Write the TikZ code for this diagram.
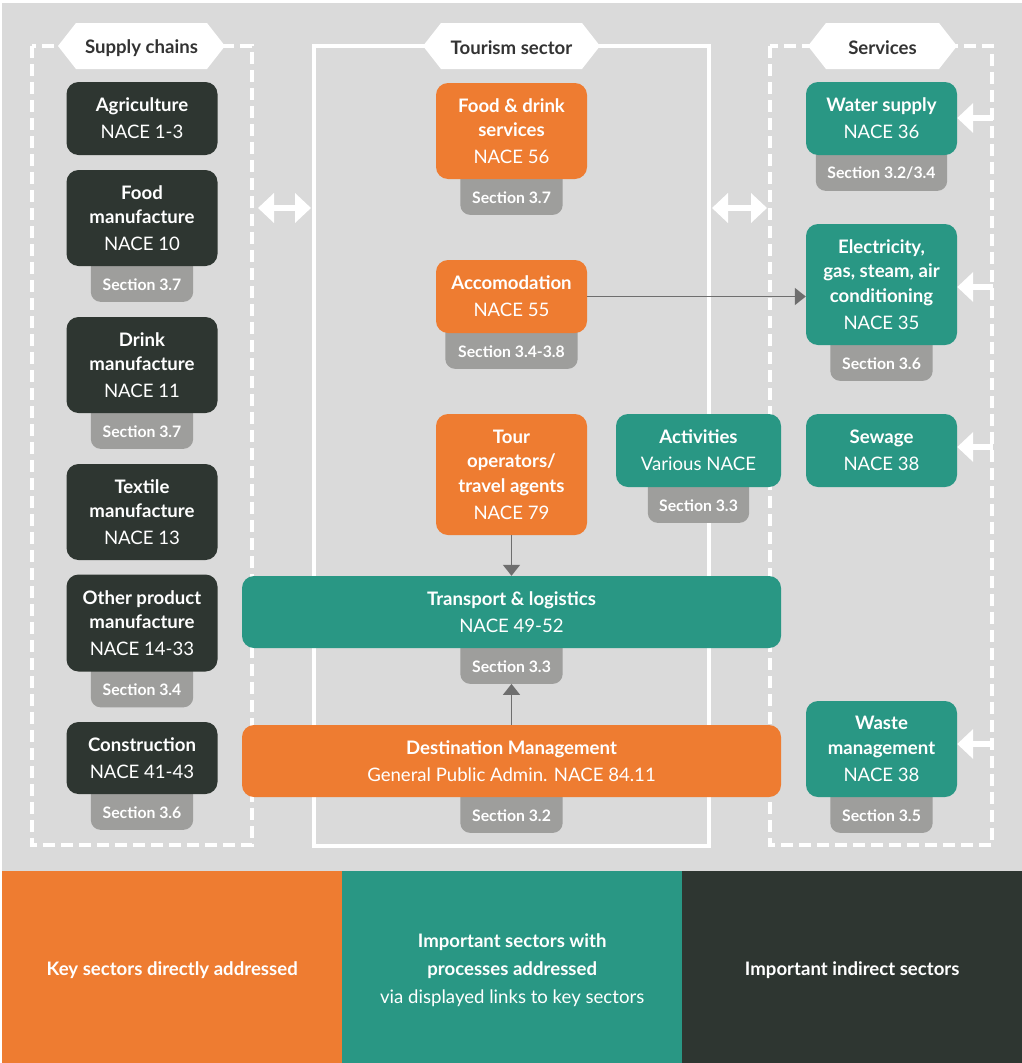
\documentclass[tikz,border=0pt]{standalone}
\usepackage{fontspec}
\setmainfont{Lato}
\usetikzlibrary{arrows.meta,calc}
\pgfdeclarelayer{back}
\pgfdeclarelayer{bg}
\pgfsetlayers{back,bg,main}
\definecolor{bggray}{HTML}{DADADA}
\definecolor{darkc}{HTML}{2E3631}
\definecolor{orangec}{HTML}{EE7C31}
\definecolor{tealc}{HTML}{299784}
\definecolor{secgray}{HTML}{9E9E9C}
\definecolor{arrowgray}{HTML}{6E6E6E}
\definecolor{tabtext}{HTML}{333333}
\newcommand\bl[1]{\textbf{#1}}
\newcommand\mysec[5]{%
  \node[sectxt, minimum width=#4, anchor=north] (#1) at (#2,#3) {#5};
  \begin{pgfonlayer}{bg}
    \fill[secgray, rounded corners=10pt] ([yshift=14pt]#1.north west) rectangle (#1.south east);
  \end{pgfonlayer}}
\newcommand\mytab[4]{% name, cx, halfwidth, text
  \fill[white] (#2-#3,46) -- (#2-#3+18,23) -- (#2+#3-18,23) -- (#2+#3,46) -- (#2+#3-18,69) -- (#2-#3+18,69) -- cycle;
  \node[tabtxt] (#1) at (#2,48) {#4};}
\begin{document}
\begin{tikzpicture}[x=1pt,y=-1pt,
  box/.style={rounded corners=12pt, inner sep=0pt, align=center, text=white,
    font=\fontsize{18.6}{24.5}\selectfont, minimum width=151pt},
  ht/.style={minimum height=#1},
  darkbox/.style={box, fill=darkc},
  orbox/.style={box, fill=orangec},
  tlbox/.style={box, fill=tealc},
  sectxt/.style={inner sep=0pt, minimum height=35pt, text=white,
    font=\bfseries\fontsize{15.8}{18}\selectfont},
  tabtxt/.style={inner sep=0pt, text=tabtext, font=\bfseries\fontsize{18.6}{20}\selectfont},
  dashborder/.style={white, line width=4pt, dash pattern=on 12pt off 6pt},
  solidborder/.style={white, line width=4pt},
  whitearrow/.style={white, line width=6.5pt, -{Triangle[length=16pt,width=29pt]}},
  whitedbl/.style={white, line width=6.5pt, {Triangle[length=16pt,width=29pt]}-{Triangle[length=16pt,width=29pt]}},
  grayarrow/.style={arrowgray, line width=1.6pt, -{Triangle[length=11pt,width=17pt]}},
  legend/.style={inner sep=0pt, minimum width=340pt, minimum height=192pt, align=center, text=white,
    font=\fontsize{18.6}{28}\selectfont},
  legtext/.style={inner sep=0pt, align=center, text=white, font=\fontsize{18.6}{28}\selectfont}
]
\useasboundingbox (0,0) rectangle (1022,1063);
\begin{pgfonlayer}{back}
  \fill[bggray] (2,3) rectangle (1022,871);
  % borders
  \draw[dashborder] (32,46) rectangle (252,845);
  \draw[solidborder] (314,46) rectangle (709,846);
  \draw[dashborder] (770,46) rectangle (992,845);
\end{pgfonlayer}

% header tabs
\mytab{tsupply}{141.5}{83.5}{Supply chains}
\mytab{ttour}{511.5}{88.5}{Tourism sector}
\mytab{tserv}{882.5}{74.5}{Services}

% supply chains
\node[darkbox, ht=73] (agr) at (142,118.5) {\bl{Agriculture}\\[2.5pt]NACE 1-3};
\node[darkbox, ht=96] (foodm) at (142,218) {\bl{Food}\\\bl{manufacture}\\[2.5pt]NACE 10};
\node[darkbox, ht=96] (drink) at (142,365) {\bl{Drink}\\\bl{manufacture}\\[2.5pt]NACE 11};
\node[darkbox, ht=96] (tex) at (142,512) {\bl{Textile}\\\bl{manufacture}\\[2.5pt]NACE 13};
\node[darkbox, ht=97] (oth) at (142,623) {\bl{Other product}\\\bl{manufacture}\\[2.5pt]NACE 14-33};
\node[darkbox, ht=72] (con) at (142,758) {\bl{Construction}\\[2.5pt]NACE 41-43};
\mysec{sfoodm}{142}{266.5}{102}{Section 3.7}
\mysec{sdrink}{142}{413.5}{102}{Section 3.7}
\mysec{soth}{142}{672}{102}{Section 3.4}
\mysec{scon}{142}{794.5}{102}{Section 3.6}

% tourism sector
\node[orbox, ht=96] (fds) at (511.5,131) {\bl{Food \& drink}\\\bl{services}\\[2.5pt]NACE 56};
\node[orbox, ht=73] (acc) at (511.5,296.5) {\bl{Accomodation}\\[2.5pt]NACE 55};
\node[orbox, ht=121] (tour) at (511.5,474.5) {\bl{Tour}\\\bl{operators/}\\\bl{travel agents}\\[2.5pt]NACE 79};
\node[tlbox, ht=73, minimum width=165pt] (act) at (698.5,450.5) {\bl{Activities}\\[2.5pt]Various NACE};
\node[tlbox, ht=72, minimum width=539pt] (trans) at (511.5,612) {\bl{Transport \& logistics}\\[2.5pt]NACE 49-52};
\node[orbox, ht=72, minimum width=539pt] (dest) at (511.5,761) {\bl{Destination Management}\\[2.5pt]General Public Admin. NACE 84.11};
\mysec{sfds}{511.5}{179.5}{102}{Section 3.7}
\mysec{sacc}{511.5}{333.5}{132}{Section 3.4-3.8}
\mysec{sact}{698.5}{487.5}{101}{Section 3.3}
\mysec{strans}{511.5}{648.5}{102}{Section 3.3}
\mysec{sdest}{511.5}{797.5}{102}{Section 3.2}

% services
\node[tlbox, ht=73] (water) at (881.5,118.5) {\bl{Water supply}\\[2.5pt]NACE 36};
\node[tlbox, ht=121] (elec) at (881.5,284.5) {\bl{Electricity,}\\\bl{gas, steam, air}\\\bl{conditioning}\\[2.5pt]NACE 35};
\node[tlbox, ht=73] (sew) at (881.5,450.5) {\bl{Sewage}\\[2.5pt]NACE 38};
\node[tlbox, ht=96] (waste) at (881.5,749) {\bl{Waste}\\\bl{management}\\[2.5pt]NACE 38};
\mysec{swater}{881.5}{155.5}{131}{Section 3.2/3.4}
\mysec{selec}{881.5}{345.5}{102}{Section 3.6}
\mysec{swaste}{881.5}{797.5}{102}{Section 3.5}

% double arrows between columns
\coordinate (dl1) at (258,208);
\coordinate (dl2) at (311,208);
\coordinate (dr1) at (712,208);
\coordinate (dr2) at (767,208);
\draw[whitedbl] (dl1) -- (dl2);
\draw[whitedbl] (dr1) -- (dr2);

% inputs to services
\coordinate (iw) at (993,118);
\coordinate (ie) at (993,287);
\coordinate (is) at (993,447);
\coordinate (iwm) at (993,744);
\draw[whitearrow] (iw) -- (iw -| water.east);
\draw[whitearrow] (ie) -- (ie -| elec.east);
\draw[whitearrow] (is) -- (is -| sew.east);
\draw[whitearrow] (iwm) -- (iwm -| waste.east);

% gray connectors
\draw[grayarrow] (acc.east) -- (acc.east -| elec.west);
\draw[grayarrow] (tour.south) -- (trans.north);
\draw[grayarrow] (dest.north) -- (strans.south);

% legend
\node[legend, fill=orangec, anchor=north west] (lg1) at (2,871) {};
\node[legend, fill=tealc, anchor=north west] (lg2) at (342,871) {};
\node[legend, fill=darkc, anchor=north west] (lg3) at (682,871) {};
\node[legtext] (lt1) at ([yshift=-2.5pt]lg1.center) {\bl{Key sectors directly addressed}};
\node[legtext] (lt2) at ([yshift=-2.5pt]lg2.center) {\bl{Important sectors with}\\\bl{processes addressed}\\via displayed links to key sectors};
\node[legtext] (lt3) at ([yshift=-2.5pt]lg3.center) {\bl{Important indirect sectors}};
\end{tikzpicture}
\end{document}
